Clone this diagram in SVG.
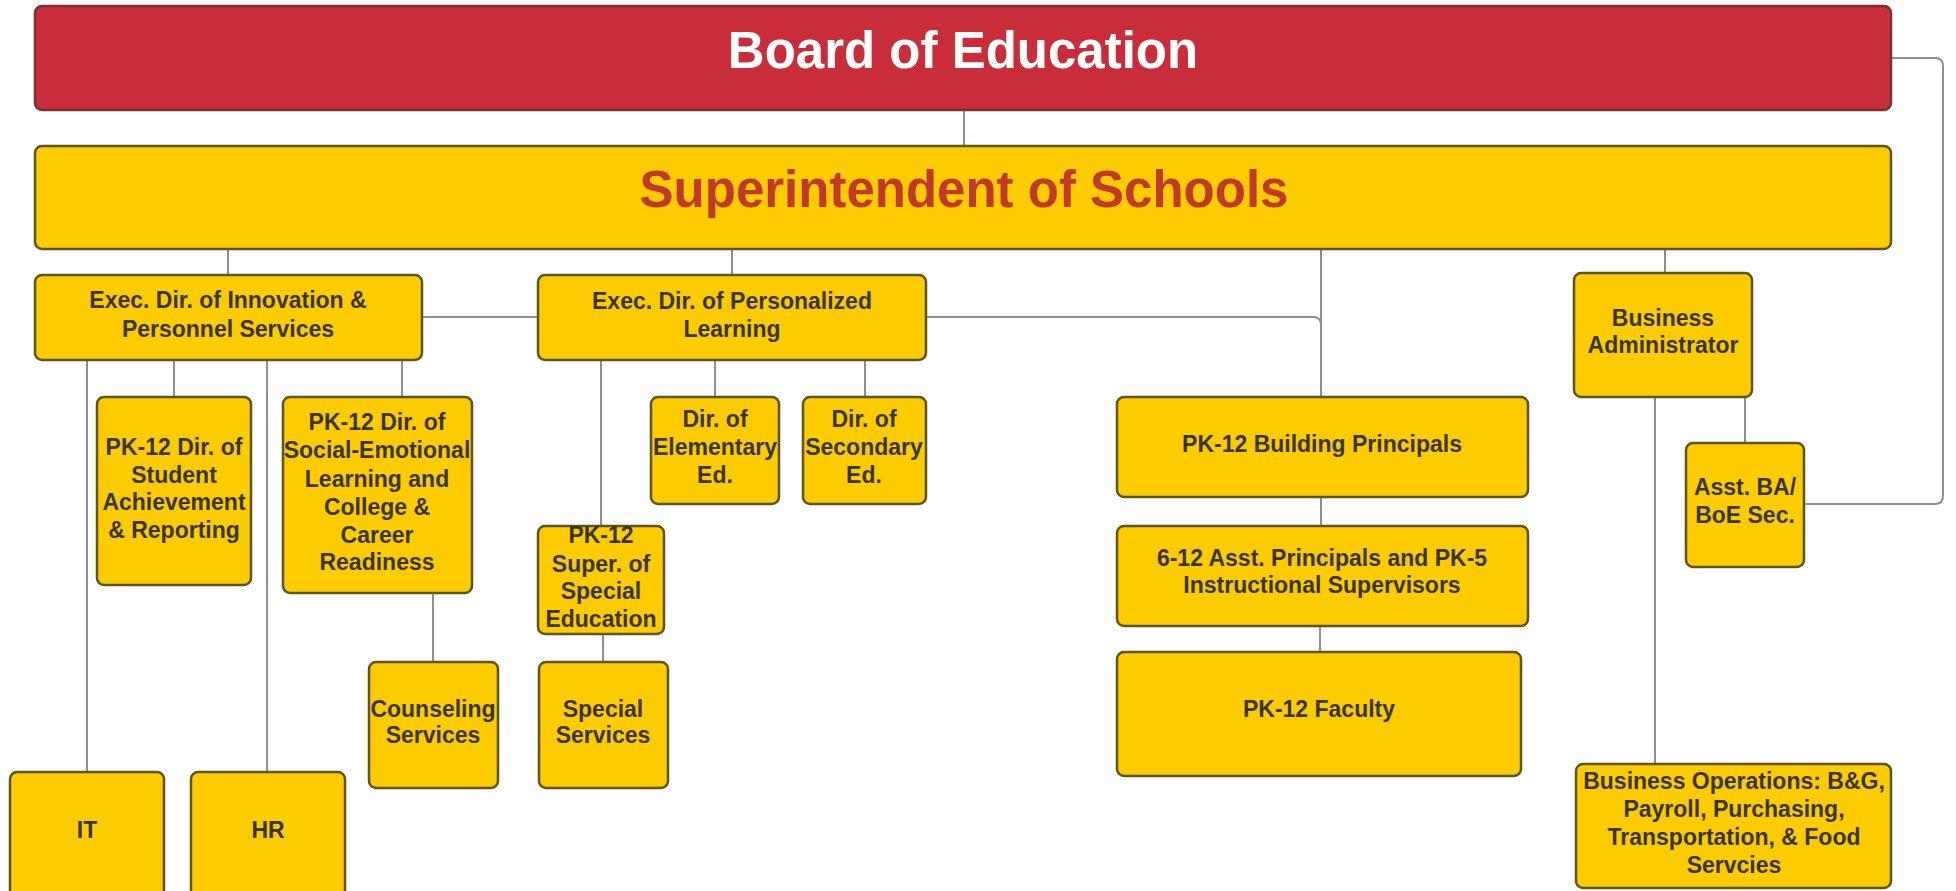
<svg xmlns="http://www.w3.org/2000/svg" width="1956" height="891" viewBox="0 0 1956 891">
<style>
.bg{fill:#ffffff}
.box{fill:#fccb00;stroke:#5e5524;stroke-width:2.5}
.board{fill:#c92d39;stroke:#7a3036;stroke-width:2.5}
.t{font-family:"Liberation Sans",Arial,sans-serif;font-weight:bold;font-size:23px;fill:#3a3520;text-anchor:middle}
.big{font-family:"Liberation Sans",Arial,sans-serif;font-weight:bold;font-size:51px;text-anchor:middle}
.conn path{fill:none;stroke:#8f8f8f;stroke-width:2}
</style>
<rect class="bg" x="0" y="0" width="1956" height="891"/>
<g id="connectors" class="conn">
<path d="M964,110 V147"/>
<path d="M228,249 V275"/>
<path d="M732,249 V275"/>
<path d="M1321,249 V397"/>
<path d="M926,317 H1313 Q1321,317 1321,325"/>
<path d="M422,317 H538"/>
<path d="M1665,249 V273"/>
<path d="M1891,58 H1935 Q1943,58 1943,66 V496 Q1943,504 1935,504 H1804"/>
<path d="M87,360 V772"/>
<path d="M174,360 V397"/>
<path d="M267,360 V772"/>
<path d="M402,360 V397"/>
<path d="M433,593 V662"/>
<path d="M601,360 V526"/>
<path d="M715,360 V397"/>
<path d="M865,360 V397"/>
<path d="M603,634 V662"/>
<path d="M1321,497 V526"/>
<path d="M1320,626 V652"/>
<path d="M1745,397 V443"/>
<path d="M1655,397 V764"/>
</g>
<g id="board">
<rect class="board" x="35" y="6" width="1856" height="104" rx="7"/>
<text class="big" x="963" y="68" fill="#ffffff">Board of Education</text>
</g>
<g id="superintendent">
<rect class="box" x="35" y="146" width="1856" height="103" rx="7"/>
<text class="big" x="964" y="207" font-size="52" fill="#c0392b">Superintendent of Schools</text>
</g>
<g id="exec-innovation">
<rect class="box" x="35" y="275" width="387" height="85" rx="7"/>
<text class="t" x="228" y="308">Exec. Dir. of Innovation &amp;</text>
<text class="t" x="228" y="337">Personnel Services</text>
</g>
<g id="exec-personalized">
<rect class="box" x="538" y="275" width="388" height="85" rx="7"/>
<text class="t" x="732" y="309">Exec. Dir. of Personalized</text>
<text class="t" x="732" y="337">Learning</text>
</g>
<g id="student-achievement">
<rect class="box" x="97" y="397" width="154" height="188" rx="7"/>
<text class="t" x="174" y="455">PK-12 Dir. of</text>
<text class="t" x="174" y="483">Student</text>
<text class="t" x="174" y="510">Achievement</text>
<text class="t" x="174" y="538">&amp; Reporting</text>
</g>
<g id="social-emotional">
<rect class="box" x="283" y="397" width="189" height="196" rx="7"/>
<text class="t" x="377" y="430">PK-12 Dir. of</text>
<text class="t" x="377" y="458">Social-Emotional</text>
<text class="t" x="377" y="487">Learning and</text>
<text class="t" x="377" y="515">College &amp;</text>
<text class="t" x="377" y="543">Career</text>
<text class="t" x="377" y="570">Readiness</text>
</g>
<g id="special-education">
<rect class="box" x="538" y="526" width="126" height="108" rx="7"/>
<text class="t" x="601" y="543">PK-12</text>
<text class="t" x="601" y="572">Super. of</text>
<text class="t" x="601" y="599">Special</text>
<text class="t" x="601" y="627">Education</text>
</g>
<g id="elementary">
<rect class="box" x="651" y="397" width="128" height="107" rx="7"/>
<text class="t" x="715" y="427">Dir. of</text>
<text class="t" x="715" y="455">Elementary</text>
<text class="t" x="715" y="483">Ed.</text>
</g>
<g id="secondary">
<rect class="box" x="803" y="397" width="123" height="107" rx="7"/>
<text class="t" x="864" y="427">Dir. of</text>
<text class="t" x="864" y="455">Secondary</text>
<text class="t" x="864" y="483">Ed.</text>
</g>
<g id="it">
<rect class="box" x="10" y="772" width="154" height="140" rx="7"/>
<text class="t" x="87" y="838">IT</text>
</g>
<g id="hr">
<rect class="box" x="191" y="772" width="154" height="140" rx="7"/>
<text class="t" x="268" y="838">HR</text>
</g>
<g id="counseling">
<rect class="box" x="369" y="662" width="129" height="126" rx="7"/>
<text class="t" x="433" y="717">Counseling</text>
<text class="t" x="433" y="743">Services</text>
</g>
<g id="special-services">
<rect class="box" x="539" y="662" width="129" height="126" rx="7"/>
<text class="t" x="603" y="717">Special</text>
<text class="t" x="603" y="743">Services</text>
</g>
<g id="building-principals">
<rect class="box" x="1117" y="397" width="411" height="100" rx="7"/>
<text class="t" x="1322" y="452">PK-12 Building Principals</text>
</g>
<g id="asst-principals">
<rect class="box" x="1117" y="526" width="411" height="100" rx="7"/>
<text class="t" x="1322" y="566">6-12 Asst. Principals and PK-5</text>
<text class="t" x="1322" y="593">Instructional Supervisors</text>
</g>
<g id="faculty">
<rect class="box" x="1117" y="652" width="404" height="124" rx="7"/>
<text class="t" x="1319" y="717">PK-12 Faculty</text>
</g>
<g id="business-administrator">
<rect class="box" x="1574" y="273" width="178" height="124" rx="7"/>
<text class="t" x="1663" y="326">Business</text>
<text class="t" x="1663" y="353">Administrator</text>
</g>
<g id="asst-ba">
<rect class="box" x="1686" y="443" width="118" height="124" rx="7"/>
<text class="t" x="1745" y="495">Asst. BA/</text>
<text class="t" x="1745" y="523">BoE Sec.</text>
</g>
<g id="business-operations">
<rect class="box" x="1576" y="764" width="315" height="124" rx="7"/>
<text class="t" x="1734" y="789">Business Operations: B&amp;G,</text>
<text class="t" x="1734" y="817">Payroll, Purchasing,</text>
<text class="t" x="1734" y="845">Transportation, &amp; Food</text>
<text class="t" x="1734" y="873">Servcies</text>
</g>
</svg>
